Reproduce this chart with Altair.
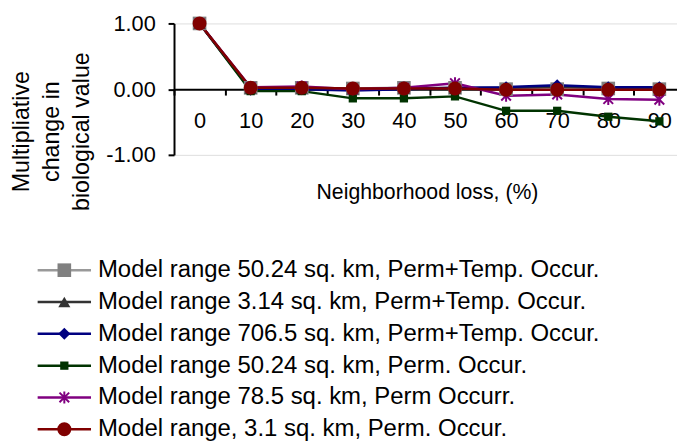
import altair as alt
import pandas as pd

# ---- data ----
loss = [0, 10, 20, 30, 40, 50, 60, 70, 80, 90]
series_names = [
    "Model range 50.24 sq. km, Perm+Temp. Occur.",
    "Model range 3.14 sq. km, Perm+Temp. Occur.",
    "Model range 706.5 sq. km, Perm+Temp. Occur.",
    "Model range 50.24 sq. km, Perm. Occur.",
    "Model range 78.5 sq. km, Perm Occurr.",
    "Model range, 3.1 sq. km, Perm. Occur.",
]
s1 = [1.00, 0.02, 0.02, 0.01, 0.02, 0.02, 0.00, 0.00, 0.01, 0.00]
s2 = [1.00, 0.01, 0.01, 0.00, 0.01, 0.01, 0.02, 0.04, 0.02, 0.02]
s3 = [1.00, -0.01, 0.00, -0.02, 0.00, 0.02, 0.03, 0.06, 0.03, 0.03]
s4 = [1.00, -0.03, -0.03, -0.14, -0.14, -0.11, -0.33, -0.33, -0.42, -0.49]
s5 = [1.00, 0.03, 0.04, 0.00, 0.02, 0.09, -0.10, -0.08, -0.15, -0.16]
s6 = [1.00, 0.02, 0.02, 0.01, 0.01, 0.01, -0.01, -0.01, -0.01, -0.01]
y_ticks = [-1, 0, 1]
y_title = ["Multipliative", "change in", "biological value"]
x_title = "Neighborhood loss, (%)"

# ---- styles ----
line_colors = ["#999999", "#333333", "#000080", "#003300", "#800080", "#800000"]
mark_colors = ["#808080", "#333333", "#000080", "#003300", "#800080", "#800000"]
ASTERISK = "M0,-1L0,1M-0.8,-0.8L0.8,0.8M-0.8,0.8L0.8,-0.8"
shapes = ["square", "triangle-up", "diamond", "square", ASTERISK, "circle"]
sizes = [190, 150, 150, 70, 150, 200]
filled = [True, True, True, True, False, True]

FONT = "Liberation Sans"

rows = []
for name, vals in zip(series_names, [s1, s2, s3, s4, s5, s6]):
    for l, v in zip(loss, vals):
        rows.append({"series": name, "loss": l, "value": v})
df = pd.DataFrame(rows)

leg_rows = []
for name in series_names:
    for lx in [0.0, 0.5, 1.0]:
        leg_rows.append({"series": name, "lx": lx})
leg_df = pd.DataFrame(leg_rows)

X = alt.X(
    "loss:O",
    sort=loss,
    scale=alt.Scale(type="band", domain=loss, paddingInner=0, paddingOuter=0, range=[0, 517]),
    axis=alt.Axis(
        orient="bottom", offset=-66.5, tickBand="extent", tickSize=6, tickWidth=2,
        tickColor="black", domainColor="black", domainWidth=2, labelAngle=0,
        labelFontSize=22, labelColor="black", labelPadding=16, labelFont=FONT,
        grid=False, title=x_title, titleFontSize=21.5, titleFontWeight="normal",
        titleFont=FONT, titleColor="black", titleBaseline="middle", titleY=104.5,
        titleX=256,
    ),
)
Y = alt.Y(
    "value:Q",
    scale=alt.Scale(domain=[-1, 1], nice=False, zero=False),
    axis=alt.Axis(
        values=y_ticks, format=".2f", labelExpr="replace(datum.label, '\u2212', '-')",
        tickSize=6, tickWidth=2, tickColor="black", domainColor="black", domainWidth=2,
        labelFontSize=22, labelColor="black", labelPadding=13, labelFont=FONT, grid=False,
        title=y_title, titleAngle=270, titleX=-154, titleY=109, titleBaseline="middle",
        titleAlign="center", titleLineHeight=30, titleFontSize=23.5, titleFontWeight="normal",
        titleFont=FONT, titleColor="black",
    ),
)

main_layers = []
for i, name in enumerate(series_names):
    base = alt.Chart(df).transform_filter(alt.datum.series == name)
    main_layers.append(base.mark_line(color=line_colors[i], strokeWidth=2.5).encode(x=X, y=Y))
for i, name in enumerate(series_names):
    base = alt.Chart(df).transform_filter(alt.datum.series == name)
    if filled[i]:
        pt = base.mark_point(shape=shapes[i], size=sizes[i], filled=True, opacity=1,
                             color=mark_colors[i])
    else:
        pt = base.mark_point(shape=shapes[i], size=sizes[i], filled=False, opacity=1,
                             color=mark_colors[i], strokeWidth=2)
    main_layers.append(pt.encode(x=X, y=Y))
main = alt.layer(*main_layers)

LX = alt.X("lx:Q", scale=alt.Scale(domain=[0, 1], range=[-138, -84], nice=False, zero=False), axis=None)
LY = alt.Y("series:N", scale=alt.Scale(type="point", domain=series_names, range=[249.7, 410.7], padding=0), axis=None)

leg_layers = []
for i, name in enumerate(series_names):
    base = alt.Chart(leg_df).transform_filter(alt.datum.series == name)
    leg_layers.append(
        base.transform_filter(alt.datum.lx != 0.5)
        .mark_line(color=line_colors[i], strokeWidth=2.5).encode(x=LX, y=LY)
    )
    if filled[i]:
        pt = base.mark_point(shape=shapes[i], size=sizes[i], filled=True, opacity=1, color=mark_colors[i])
    else:
        pt = base.mark_point(shape=shapes[i], size=sizes[i], filled=False, opacity=1,
                             color=mark_colors[i], strokeWidth=2)
    leg_layers.append(pt.transform_filter(alt.datum.lx == 0.5).encode(x=LX, y=LY))
    leg_layers.append(
        base.transform_filter(alt.datum.lx == 1.0)
        .mark_text(align="left", baseline="middle", dx=7, fontSize=24.2, font=FONT, color="black")
        .encode(x=LX, y=LY, text="series:N")
    )
legend = alt.layer(*leg_layers)

chart = (
    alt.layer(main, legend)
    .resolve_scale(x="independent", y="independent")
    .properties(
        width=509, height=133,
        autosize=alt.AutoSizeParams(type="none"),
        padding={"left": 168, "top": 13, "right": 0, "bottom": 292},
    )
    .configure_view(stroke=None)
    .configure(font=FONT)
)

chart.save("out.html", embed_options={"renderer": "svg", "actions": False})
